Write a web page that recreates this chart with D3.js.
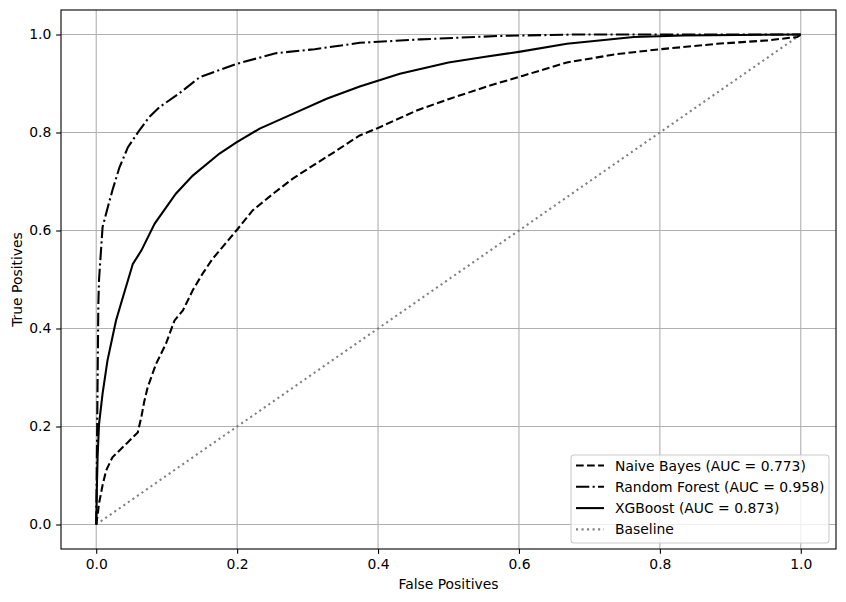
<!DOCTYPE html>
<html><head><meta charset="utf-8">
<script src="https://cdn.jsdelivr.net/npm/d3@7"></script>
<style>body{margin:0;background:#fff}svg{font-family:"DejaVu Sans",sans-serif}</style>
</head><body><svg id="c" width="846" height="602"></svg>
<script>
const nbFpr=[0,0.002,0.004,0.009,0.014,0.023,0.033,0.045,0.059,0.064,0.068,0.073,0.085,0.099,0.111,0.123,0.137,0.151,0.165,0.175,0.199,0.222,0.251,0.279,0.308,0.341,0.374,0.398,0.455,0.502,0.559,0.606,0.668,0.739,0.801,0.881,0.953,0.995,1];
const nbTpr=[0,0.02,0.043,0.08,0.110,0.137,0.151,0.168,0.188,0.219,0.25,0.280,0.328,0.369,0.416,0.437,0.478,0.512,0.542,0.559,0.600,0.641,0.675,0.706,0.733,0.763,0.794,0.808,0.845,0.869,0.896,0.916,0.943,0.960,0.970,0.981,0.988,0.995,1];
const rfFpr=[0,0.001,0.002,0.003,0.004,0.006,0.009,0.015,0.023,0.033,0.045,0.061,0.075,0.090,0.118,0.147,0.199,0.256,0.31,0.374,0.46,0.57,0.68,1];
const rfTpr=[0,0.15,0.3,0.45,0.50,0.543,0.607,0.64,0.682,0.729,0.77,0.804,0.831,0.852,0.88,0.913,0.940,0.962,0.97,0.983,0.99,0.997,1,1];
const xgFpr=[0,0.001,0.002,0.004,0.009,0.016,0.028,0.035,0.052,0.064,0.083,0.113,0.137,0.175,0.199,0.232,0.279,0.327,0.374,0.431,0.50,0.550,0.602,0.668,0.763,0.834,1];
const xgTpr=[0,0.08,0.14,0.205,0.267,0.335,0.416,0.45,0.532,0.559,0.614,0.675,0.712,0.757,0.780,0.808,0.838,0.869,0.894,0.920,0.943,0.954,0.965,0.981,0.995,0.998,1];
const baseFpr=[0,1], baseTpr=[0,1];
const names=["Naive Bayes (AUC = 0.773)","Random Forest (AUC = 0.958)","XGBoost (AUC = 0.873)","Baseline"];
const ticks=[0,0.2,0.4,0.6,0.8,1.0];

const svg=d3.select("#c");
const L=61,R=836,T=10,B=549;
const FS=13.9;
const x=d3.scaleLinear().domain([-0.05,1.05]).range([L,R]);
const y=d3.scaleLinear().domain([-0.05,1.05]).range([B,T]);

const g=svg.append("g");
ticks.forEach(t=>{
  g.append("line").attr("x1",x(t)).attr("x2",x(t)).attr("y1",T).attr("y2",B).attr("stroke","#b0b0b0").attr("stroke-width",1.1);
  g.append("line").attr("y1",y(t)).attr("y2",y(t)).attr("x1",L).attr("x2",R).attr("stroke","#b0b0b0").attr("stroke-width",1.1);
});

const series=[
 {f:nbFpr,t:nbTpr,dash:"7.7,3.33",color:"#000"},
 {f:rfFpr,t:rfTpr,dash:"13.3,3.33,2.08,3.33",color:"#000"},
 {f:xgFpr,t:xgTpr,dash:null,color:"#000"},
 {f:baseFpr,t:baseTpr,dash:"2.08,3.44",color:"#808080"}
];
const line=d3.line().x(d=>x(d[0])).y(d=>y(d[1]));
[3,0,1,2].forEach(i=>{
  const s=series[i];
  svg.append("path").datum(s.f.map((v,k)=>[v,s.t[k]])).attr("d",line)
   .attr("fill","none").attr("stroke",s.color).attr("stroke-width",2.08)
   .attr("stroke-dasharray",s.dash);
});

svg.append("rect").attr("x",L).attr("y",T).attr("width",R-L).attr("height",B-T).attr("fill","none").attr("stroke","#000").attr("stroke-width",1.1);
const fmt=d3.format(".1f");
const style=a=>{a.select(".domain").remove();a.selectAll("text").attr("font-size",FS).attr("font-family","DejaVu Sans").attr("fill","#000");a.selectAll("line").attr("stroke","#000").attr("stroke-width",1.1);};
svg.append("g").attr("transform",`translate(0,${B})`).call(d3.axisBottom(x).tickValues(ticks).tickFormat(fmt).tickSize(4.86).tickPadding(4.86)).call(style);
svg.append("g").attr("transform",`translate(${L},0)`).call(d3.axisLeft(y).tickValues(ticks).tickFormat(fmt).tickSize(4.86).tickPadding(4.86)).call(style);

svg.append("text").attr("x",(L+R)/2).attr("y",589).attr("text-anchor","middle").attr("font-size",FS).text("False Positives");
svg.append("text").attr("transform",`translate(22,${(T+B)/2}) rotate(-90)`).attr("text-anchor","middle").attr("font-size",FS).text("True Positives");

const lg=svg.append("g");
lg.append("rect").attr("x",571).attr("y",455).attr("width",258).attr("height",88).attr("rx",3)
 .attr("fill","#fff").attr("fill-opacity",0.8).attr("stroke","#cccccc").attr("stroke-width",1.1);
names.forEach((n,i)=>{
  const yy=465.5+i*21.3;
  lg.append("line").attr("x1",576).attr("x2",604).attr("y1",yy).attr("y2",yy)
   .attr("stroke",series[i].color).attr("stroke-width",2.08).attr("stroke-dasharray",series[i].dash);
  lg.append("text").attr("x",615).attr("y",yy+5).attr("font-size",FS).text(n);
});
</script></body></html>
